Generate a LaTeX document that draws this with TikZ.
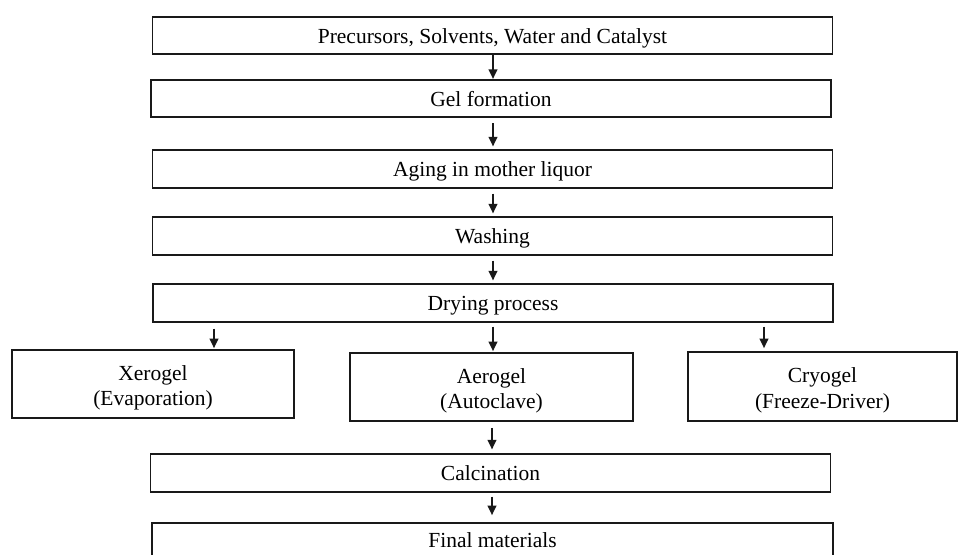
\documentclass[tikz,border=0pt]{standalone}
\usepackage{fontspec}
\setmainfont{Liberation Serif}
\usetikzlibrary{arrows.meta}
\newcommand{\twolines}[2]{\raisebox{-4pt}[\height][\depth]{\begin{tabular}{@{}c@{}}#1\\#2\end{tabular}}}
\begin{document}
\begin{tikzpicture}[x=1pt,y=-1pt,
  box/.style={draw=black!90,line width=1.6pt,rectangle,inner sep=0pt,
    font=\fontsize{21.5}{25.5}\selectfont},
  wide/.style={box,minimum width=680pt,minimum height=37.5pt,text height=16pt,text depth=1pt},
  arr/.style={draw=black!90,line width=1.9pt,-{Triangle[length=9.5pt,width=8.5pt]}}]
\useasboundingbox (0,0) rectangle (958,554);
\begin{scope}
\clip (0,0) rectangle (958,554);
\node[wide] (b1) at (492.5,35.5) {Precursors, Solvents, Water and Catalyst};
\node[wide] (b2) at (491,98.5) {Gel formation};
\node[wide] (b3) at (492.5,169) {Aging in mother liquor};
\node[wide] (b4) at (492.5,236) {Washing};
\node[wide] (b5) at (493,303) {Drying process};
\node[box,minimum width=282pt,minimum height=68pt] (xero) at (153,384) {\twolines{Xerogel}{(Evaporation)}};
\node[box,minimum width=283pt,minimum height=68pt] (aero) at (491.5,387) {\twolines{Aerogel}{(Autoclave)}};
\node[box,minimum width=269pt,minimum height=69pt] (cryo) at (822.5,386.5) {\twolines{Cryogel}{(Freeze-Driver)}};
\node[wide] (calc) at (490.5,473) {Calcination};
\node[box,minimum width=681pt,minimum height=40pt] (fin) at (492.5,543) {};
\node[font=\fontsize{21.5}{25.5}\selectfont,inner sep=0pt,text height=16pt,text depth=1pt] (fint) at (492.5,540) {Final materials};
\end{scope}
\draw[arr] (b1.south -| 493,0) -- (b2.north -| 493,0);
\draw[arr,shorten <=5pt,shorten >=3pt] (b2.south -| 493,0) -- (b3.north -| 493,0);
\draw[arr,shorten <=5pt,shorten >=3pt] (b3.south -| 493,0) -- (b4.north -| 493,0);
\draw[arr,shorten <=5pt,shorten >=3pt] (b4.south -| 493,0) -- (b5.north -| 493,0);
\draw[arr,shorten <=6pt,shorten >=1pt] (b5.south -| 214,0) -- (xero.north -| 214,0);
\draw[arr,shorten <=4pt,shorten >=1pt] (b5.south -| 493,0) -- (aero.north -| 493,0);
\draw[arr,shorten <=4pt,shorten >=3pt] (b5.south -| 764,0) -- (cryo.north -| 764,0);
\draw[arr,shorten <=6pt,shorten >=4pt] (aero.south -| 492,0) -- (calc.north -| 492,0);
\draw[arr,shorten <=4pt,shorten >=7pt] (calc.south -| 492,0) -- (fin.north -| 492,0);
\end{tikzpicture}
\end{document}
